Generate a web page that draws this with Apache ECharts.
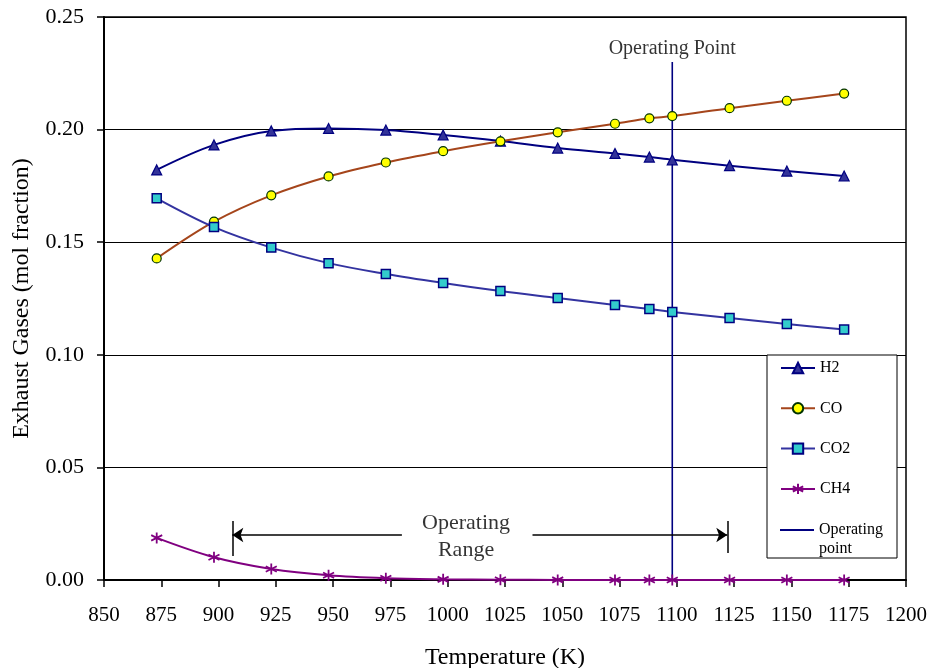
<!DOCTYPE html>
<html>
<head>
<meta charset="utf-8">
<script src="https://cdn.jsdelivr.net/npm/echarts@6/dist/echarts.min.js"></script>
<style>
  html, body { margin: 0; padding: 0; background: #fff; }
  #chart { width: 930px; height: 668px; }
</style>
</head>
<body>
<div id="chart"></div>
<script>
// Exhaust gas composition vs. reformer temperature
const temperatures = [873, 898, 923, 948, 973, 998, 1023, 1048, 1073, 1088, 1098, 1123, 1148, 1173];
const h2  = [0.1821, 0.1932, 0.1994, 0.2005, 0.1998, 0.1976, 0.1949, 0.1918, 0.1894, 0.1878, 0.1866, 0.1840, 0.1816, 0.1794];
const co  = [0.1428, 0.1591, 0.1708, 0.1792, 0.1854, 0.1904, 0.1948, 0.1988, 0.2026, 0.2050, 0.2060, 0.2095, 0.2128, 0.2160];
const co2 = [0.1695, 0.1567, 0.1476, 0.1407, 0.1359, 0.1319, 0.1283, 0.1252, 0.1221, 0.1203, 0.1190, 0.1163, 0.1137, 0.1112];
const ch4 = [0.0187, 0.0101, 0.0049, 0.0021, 0.0008, 0.0003, 0.0001, 0.00005, 0.00002, 0.00001, 0.00001, 0, 0, 0];

const operatingPoint = 1098;       // K
const operatingPointTop = 0.23;    // top of the marker line
const rangeStart = 906;            // K
const rangeEnd = 1122;             // K
const rangeArrowY = 0.02;
const rangeLabelX = 1008;
const rangeGapLeft = 980;          // arrows stop short of the label
const rangeGapRight = 1037;

const xTicks = { min: 850, max: 1200, step: 25 };
const yTicks = { min: 0, max: 0.25, step: 0.05 };

const FONT = '"Liberation Serif", "Times New Roman", serif';

const pairs = arr => temperatures.map((t, i) => [t, arr[i]]);

const asterisk = 'path://M5,0L5,10M0.67,2.5L9.33,7.5M0.67,7.5L9.33,2.5';

const chart = echarts.init(document.getElementById('chart'), null, { renderer: 'canvas' });

const legendText = { fontFamily: FONT, fontSize: 16, color: '#000', lineHeight: 18 };

chart.setOption({
  backgroundColor: '#ffffff',
  animation: false,
  textStyle: { fontFamily: FONT },
  grid: {
    left: 104, right: 24, top: 17, bottom: 88,
    outerBoundsMode: 'none',
    containLabel: false,
    show: true, borderColor: '#000', borderWidth: 1.5, backgroundColor: 'transparent'
  },
  xAxis: {
    type: 'value',
    min: xTicks.min, max: xTicks.max, interval: xTicks.step,
    name: 'Temperature (K)',
    nameLocation: 'middle',
    nameGap: 66,
    nameTextStyle: { fontFamily: FONT, fontSize: 24, color: '#000' },
    axisLine: { show: true, onZero: false, lineStyle: { color: '#000', width: 2 } },
    axisTick: { show: true, inside: false, length: 7, lineStyle: { color: '#000', width: 1.5 } },
    axisLabel: { margin: 25, fontFamily: FONT, fontSize: 21, color: '#000',
                 formatter: v => String(v) },
    splitLine: { show: false }
  },
  yAxis: {
    type: 'value',
    min: yTicks.min, max: yTicks.max, interval: yTicks.step,
    name: 'Exhaust Gases (mol fraction)',
    nameLocation: 'middle',
    nameGap: 70,
    nameRotate: 90,
    nameTextStyle: { fontFamily: FONT, fontSize: 24, color: '#000' },
    axisLine: { show: true, lineStyle: { color: '#000', width: 2 } },
    axisTick: { show: true, inside: false, length: 7, lineStyle: { color: '#000', width: 1.5 } },
    axisLabel: { margin: 20, fontFamily: FONT, fontSize: 22, color: '#000',
                 formatter: v => v.toFixed(2) },
    splitLine: { show: true, lineStyle: { color: '#000', width: 1 } }
  },
  legend: [{
    orient: 'vertical',
    left: 780, top: 359,
    itemWidth: 34, itemHeight: 13, itemGap: 22.3,
    padding: 0,
    z: 6,
    textStyle: legendText,
    data: ['H2', 'CO', 'CO2', 'CH4']
  }, {
    orient: 'vertical',
    left: 780, top: 521,
    itemWidth: 34, itemHeight: 2,
    icon: 'rect',
    padding: 0,
    z: 6,
    textStyle: legendText,
    formatter: () => 'Operating',
    data: ['Operating point']
  }],
  graphic: [
    {
      type: 'rect', z: 3, silent: true,
      shape: { x: 767, y: 355, width: 130, height: 203 },
      style: { fill: '#fff', stroke: '#000', lineWidth: 1 }
    },
    {
      type: 'text', z: 7, silent: true,
      x: 819, y: 549,
      style: { text: 'point', fontFamily: FONT, fontSize: 16, fill: '#000', verticalAlign: 'middle' }
    }
  ],
  series: [
    {
      name: 'H2', type: 'line', smooth: 0.35,
      data: pairs(h2),
      symbol: 'triangle', symbolSize: 10, showSymbol: true,
      lineStyle: { color: '#000080', width: 2 },
      itemStyle: { color: '#333399', borderColor: '#000080', borderWidth: 1.2 },
      z: 3
    },
    {
      name: 'CO', type: 'line', smooth: 0.35,
      data: pairs(co),
      symbol: 'circle', symbolSize: 9,
      lineStyle: { color: '#A5451B', width: 2 },
      itemStyle: { color: '#FFFF00', borderColor: '#003300', borderWidth: 1.2 },
      z: 3
    },
    {
      name: 'CO2', type: 'line', smooth: 0.35,
      data: pairs(co2),
      symbol: 'rect', symbolSize: 9,
      lineStyle: { color: '#3333A0', width: 2 },
      itemStyle: { color: '#33CCCC', borderColor: '#000080', borderWidth: 1.5 },
      z: 3
    },
    {
      name: 'CH4', type: 'line', smooth: 0.35,
      data: pairs(ch4),
      symbol: asterisk, symbolSize: 11,
      lineStyle: { color: '#800080', width: 2 },
      itemStyle: { color: '#800080', borderColor: '#800080', borderWidth: 1.8 },
      z: 3
    },
    {
      name: 'Operating point', type: 'line',
      data: [[operatingPoint, 0], [operatingPoint, operatingPointTop]],
      symbol: 'none',
      lineStyle: { color: '#000080', width: 1.6 },
      itemStyle: { color: '#000080' },
      z: 2
    },
    {
      name: 'annotations', type: 'scatter',
      symbol: 'circle', symbolSize: 1,
      itemStyle: { color: 'rgba(0,0,0,0)' },
      silent: true,
      z: 4,
      data: [
        {
          value: [rangeLabelX, rangeArrowY - 0.0007],
          label: {
            show: true, position: 'inside', formatter: 'Operating\nRange',
            fontFamily: FONT, fontSize: 22, lineHeight: 27, color: '#000', align: 'center'
          }
        },
        {
          value: [operatingPoint, operatingPointTop],
          label: {
            show: true, position: 'top', distance: 3, formatter: 'Operating Point',
            fontFamily: FONT, fontSize: 20, color: '#000'
          }
        }
      ],
      markLine: {
        silent: true,
        animation: false,
        label: { show: false },
        lineStyle: { color: '#000', width: 1.5, type: 'solid' },
        symbolSize: 11,
        data: [
          [{ coord: [rangeGapLeft, rangeArrowY], symbol: 'none' },
           { coord: [rangeStart, rangeArrowY], symbol: 'arrow' }],
          [{ coord: [rangeGapRight, rangeArrowY], symbol: 'none' },
           { coord: [rangeEnd, rangeArrowY], symbol: 'arrow' }],
          [{ coord: [rangeStart, 0.0107], symbol: 'none' },
           { coord: [rangeStart, 0.0262], symbol: 'none' }],
          [{ coord: [rangeEnd, 0.012], symbol: 'none' },
           { coord: [rangeEnd, 0.0262], symbol: 'none' }]
        ]
      }
    }
  ]
});
</script>
</body>
</html>
